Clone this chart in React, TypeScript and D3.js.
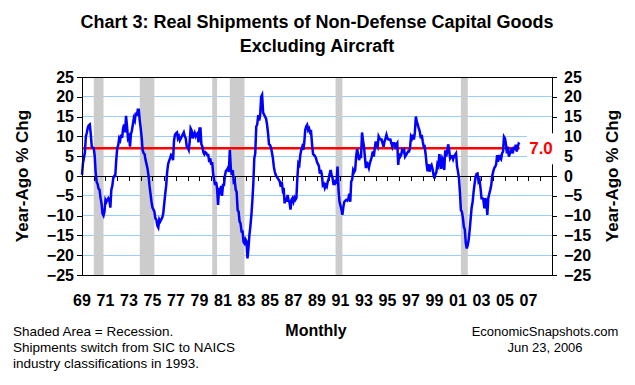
import * as d3 from 'd3';
import { useEffect, useRef } from 'react';

// monthly year-ago % change, Jan 1969 .. Apr 2006
const startYear = 1969;
const yoyChange = [
  0.3, 3.3, 4.5, 6, 10, 11, 12.2, 12.8, 13, 10.5, 7.4, 7.2, // 1969
  7, 5, 1, -1.5, -2, -3.2, -3.5, -5.6, -7, -9.5, -10, -9, // 1970
  -6, -6.5, -6, -5.6, -6, -8, -3.5, -2.5, -0.5, 0, 0, 4, // 1971
  7, 7.8, 9.5, 9, 10.4, 9.6, 12, 13, 11, 15.2, 12.5, 9.5, // 1972
  10, 7.4, 10.5, 11.5, 13, 14.6, 14, 16, 15.2, 16.7, 16.7, 14, // 1973
  12, 9.5, 6.5, 5.8, 5.5, 4, 3, 1.8, 0, -2.5, -4.5, -6.5, // 1974
  -8, -8.5, -9, -10.7, -11, -12.5, -13, -11, -11.5, -11, -10.5, -9.5, // 1975
  -7, -4.5, -2.5, 1, 3, 3.8, 4.5, 5.3, 5, 4, 9, 10.4, // 1976
  10.8, 11, 9.5, 10, 9, 9.5, 10, 10.5, 11, 10, 9.5, 7.4, // 1977
  7.2, 6.6, 8.5, 12, 11.5, 9.5, 10.5, 11, 10, 10.5, 10.8, 8.5, // 1978
  12, 12, 8, 7.4, 6, 5.5, 6, 5.8, 5.3, 5.3, 3.5, 4.5, // 1979
  2.8, 3.5, 0.5, -1, -2.3, -1.5, -3.2, -7.3, -3, -4.7, -2.5, -5, // 1980
  -2.3, -2.3, 0, 1.3, 1.5, 2, 1, 6.6, 2, 0.3, 1.5, -1.5, // 1981
  -1.2, -3.5, -4, -8.6, -9, -11.5, -12, -14, -14, -16.6, -17, -16, // 1982
  -16.5, -20.8, -18.5, -15, -12.8, -10, -6.5, -2, 4.5, 5.7, 12.5, 13, // 1983
  15.4, 14, 15.4, 20, 20.5, 16, 15.5, 15, 14.5, 13, 10.8, 8, // 1984
  7.8, 7.2, 6, 4.5, 2.3, 1, 0.2, -0.2, -0.6, -1, -1.4, -2.7, // 1985
  -1.4, -3.5, -3, -6.9, -5.5, -6.5, -4.8, -6, -6.8, -8.5, -6, -5.6, // 1986
  -6.5, -5.5, -6, -5.6, -0.6, 3.2, 2.8, 5.3, 6.6, 7.4, 6.6, 8.3, // 1987
  11.6, 12.5, 12.9, 11.6, 12, 11, 11.2, 8, 5.5, 5.3, 5, 4.5, // 1988
  3.5, 3, 2.5, 0.6, 1.5, 0.3, -2.3, -2, -3, -2.3, -2.7, -1.4, // 1989
  -0.6, 0.6, 1.5, 0.3, -0.6, -2.3, -1, -1.8, -1.5, 2.4, -3.5, -6.5, // 1990
  -7.5, -8.5, -9.8, -7.8, -6.5, -6.2, -6, -6.2, -5.8, -4.5, -6.5, -1.4, // 1991
  -0.8, 1.5, 1, 1.5, 4.9, 6.8, 5.5, 4, 5, 4.9, 11, 9, // 1992
  7.4, 4.5, 2, 3.6, 2.8, 2, 3.2, 4, 4.9, 6.2, 4.9, 7, // 1993
  8.7, 7.9, 7.4, 10, 9.5, 9.2, 9.2, 8.3, 7.4, 8.7, 9.5, 10.4, // 1994
  9.5, 9.2, 9.2, 9.2, 8.3, 7.4, 8.3, 8.3, 7.4, 7.9, 8.3, 2.8, // 1995
  5.7, 4.9, 5.3, 6.6, 6.2, 6.6, 4.9, 5.3, 5.7, 6.2, 6.2, 7, // 1996
  10, 9.5, 10.4, 9.2, 11, 15, 13.7, 12.9, 12, 11.2, 9.5, 10.4, // 1997
  8.7, 7.4, 7.5, 5.5, 3, 1.2, 3, 1.1, 2.4, 2.8, 1.8, 0.3, // 1998
  -0.6, 0.5, 1, 3, 2.5, 5.5, 3.6, 1.8, 4.5, 4, 1.5, 6.5, // 1999
  4.9, 6.2, 8, 6.5, 4.5, 5, 5, 4.2, 5, 5.3, 5.7, 2.5, // 2000
  1.1, -0.6, -4, -8.6, -9, -10.5, -12.8, -13.5, -17, -18.3, -17.4, -16, // 2001
  -13.5, -10.5, -8, -6.5, -4, -2, -0.2, 0.5, 0.6, -1.4, -1, -3, // 2002
  -5.6, -5.6, -6, -8.2, -5.6, -6.5, -9.8, -5.6, -4.5, -3.5, -2.3, 0, // 2003
  1.1, 2, 2.3, 3, 5.3, 3.6, 5.3, 4.5, 4.2, 5.7, 6.2, 9.9, // 2004
  9.5, 8, 5.7, 7.4, 4.9, 5.7, 6.2, 7, 5.7, 7.4, 6.6, 7.9, // 2005
  6.2, 7.4, 8.2, 8.0 // 2006
];

const latestLevel = 7.0;

// shaded months (month after peak .. trough)
const recessions = [
  ['1970-01', '1970-11'],
  ['1973-12', '1975-03'],
  ['1980-02', '1980-07'],
  ['1981-08', '1982-11'],
  ['1990-08', '1991-03'],
  ['2001-04', '2001-11']
];

const yTicks = [25, 20, 15, 10, 5, 0, -5, -10, -15, -20, -25];
const xTickLabels = ['69', '71', '73', '75', '77', '79', '81', '83', '85', '87',
  '89', '91', '93', '95', '97', '99', '01', '03', '05', '07'];

export default function App() {
  const ref = useRef<HTMLDivElement>(null);

  useEffect(() => {
    const width = 635;
    const height = 385;
    const plot = { left: 82, right: 552, top: 77, bottom: 275 };
    const font = 'Arial, "Liberation Sans", sans-serif';

    const svg = d3.create('svg')
      .attr('width', width)
      .attr('height', height)
      .style('display', 'block')
      .style('background', '#fff');

    ref.current!.innerHTML = '';
    ref.current!.append(svg.node()!);

    const x = d3.scaleTime()
      .domain([new Date(1969, 0, 1), new Date(2009, 0, 1)])
      .range([plot.left, plot.right]);
    const y = d3.scaleLinear().domain([-25, 25]).range([plot.bottom, plot.top]);

    const parse = d3.timeParse('%Y-%m');
    const points = yoyChange.map((v, i) => ({
      date: new Date(startYear + Math.floor(i / 12), i % 12, 1),
      value: v
    }));

    // gridlines
    svg.append('g')
      .selectAll('line')
      .data(yTicks.filter(t => t !== 0 && Math.abs(t) !== 25))
      .join('line')
      .attr('x1', plot.left).attr('x2', plot.right)
      .attr('y1', d => y(d)).attr('y2', d => y(d))
      .attr('stroke', '#99CCFF').attr('stroke-width', 1)
      .attr('shape-rendering', 'crispEdges');

    // recession bands
    svg.append('g')
      .selectAll('rect')
      .data(recessions)
      .join('rect')
      .attr('x', d => x(parse(d[0])!))
      .attr('width', d => x(parse(d[1])!) - x(parse(d[0])!))
      .attr('y', plot.top)
      .attr('height', plot.bottom - plot.top)
      .attr('fill', '#CCCCCC');

    // zero line with yearly ticks
    svg.append('g')
      .attr('transform', `translate(0,${y(0)})`)
      .call(d3.axisBottom(x).ticks(d3.timeYear.every(1)).tickSize(5).tickFormat(() => ''))
      .call(g => g.select('.domain').remove())
      .call(g => g.selectAll('.tick').filter((d: any) => +d <= +x.domain()[0] || +d >= +x.domain()[1]).remove())
      .call(g => g.selectAll('line').attr('stroke', '#000').attr('shape-rendering', 'crispEdges'));
    svg.append('line')
      .attr('x1', plot.left).attr('x2', plot.right)
      .attr('y1', y(0)).attr('y2', y(0))
      .attr('stroke', '#000').attr('shape-rendering', 'crispEdges');

    // 7.0 reference line
    const last = points[points.length - 1].date;
    svg.append('line')
      .attr('x1', x(points[0].date)).attr('x2', x(last))
      .attr('y1', y(latestLevel)).attr('y2', y(latestLevel))
      .attr('stroke', '#FF0000').attr('stroke-width', 2.5);

    // series
    const line = d3.line<{ date: Date; value: number }>()
      .x(d => x(d.date))
      .y(d => y(d.value));
    svg.append('path')
      .datum(points)
      .attr('d', line)
      .attr('fill', 'none')
      .attr('stroke', '#0000FF')
      .attr('stroke-width', 2.5)
      .attr('stroke-linejoin', 'miter');

    // plot frame
    svg.append('rect')
      .attr('x', plot.left).attr('y', plot.top)
      .attr('width', plot.right - plot.left).attr('height', plot.bottom - plot.top)
      .attr('fill', 'none').attr('stroke', '#000')
      .attr('shape-rendering', 'crispEdges');

    // left axis
    svg.append('g')
      .attr('transform', `translate(${plot.left},0)`)
      .call(d3.axisLeft(y).tickValues(yTicks).tickSize(5).tickPadding(3).tickFormat(d3.format('d')))
      .call(g => g.select('.domain').remove())
      .call(g => g.selectAll('line').attr('stroke', '#000').attr('shape-rendering', 'crispEdges'))
      .call(g => g.selectAll('text').attr('font-family', font).attr('font-size', 16)
        .attr('font-weight', 'bold').attr('fill', '#000'));

    // right axis
    svg.append('g')
      .attr('transform', `translate(${plot.right},0)`)
      .call(d3.axisRight(y).tickValues(yTicks).tickSize(5).tickPadding(7).tickFormat(d3.format('d')))
      .call(g => g.select('.domain').remove())
      .call(g => g.selectAll('line').attr('stroke', '#000').attr('shape-rendering', 'crispEdges'))
      .call(g => g.selectAll('text').attr('font-family', font).attr('font-size', 16)
        .attr('font-weight', 'bold').attr('fill', '#000'));

    // label box for latest value
    svg.append('rect')
      .attr('x', 527).attr('y', y(latestLevel) - 15)
      .attr('width', 30).attr('height', 31)
      .attr('fill', '#fff');
    svg.append('text')
      .attr('x', 541).attr('y', y(latestLevel) + 6)
      .attr('text-anchor', 'middle')
      .attr('font-family', font).attr('font-size', 17).attr('font-weight', 'bold')
      .attr('fill', '#FF0000')
      .text(latestLevel.toFixed(1));

    // x labels
    svg.append('g')
      .selectAll('text')
      .data(xTickLabels)
      .join('text')
      .attr('x', (d, i) => x(new Date(1969 + i * 2, 0, 1)))
      .attr('y', 306)
      .attr('text-anchor', 'middle')
      .attr('font-family', font).attr('font-size', 16).attr('font-weight', 'bold')
      .text(d => d);

    // titles
    const title = svg.append('text')
      .attr('text-anchor', 'middle')
      .attr('font-family', font).attr('font-size', 18).attr('font-weight', 'bold');
    title.append('tspan').attr('x', 317).attr('y', 28).text('Chart 3: Real Shipments of Non-Defense Capital Goods');
    title.append('tspan').attr('x', 317).attr('y', 52).text('Excluding Aircraft');

    [22, 612].forEach(cx => {
      svg.append('text')
        .attr('transform', `translate(${cx},176) rotate(-90)`)
        .attr('text-anchor', 'middle')
        .attr('dy', '0.35em')
        .attr('font-family', font).attr('font-size', 17).attr('font-weight', 'bold')
        .text('Year-Ago % Chg');
    });

    svg.append('text')
      .attr('x', 316).attr('y', 336)
      .attr('text-anchor', 'middle')
      .attr('font-family', font).attr('font-size', 16).attr('font-weight', 'bold')
      .text('Monthly');

    const notes = ['Shaded Area = Recession.', 'Shipments switch from SIC to NAICS', 'industry classifications in 1993.'];
    svg.append('g')
      .selectAll('text')
      .data(notes)
      .join('text')
      .attr('x', 13)
      .attr('y', (d, i) => 336 + i * 16)
      .attr('font-family', font).attr('font-size', 13.5)
      .text(d => d);

    const source = ['EconomicSnapshots.com', 'Jun 23, 2006'];
    svg.append('g')
      .selectAll('text')
      .data(source)
      .join('text')
      .attr('x', 545)
      .attr('y', (d, i) => 336 + i * 16)
      .attr('text-anchor', 'middle')
      .attr('font-family', font).attr('font-size', 13)
      .text(d => d);
  }, []);

  return <div ref={ref} style={{ position: 'absolute', left: 0, top: 0 }}></div>;
}
